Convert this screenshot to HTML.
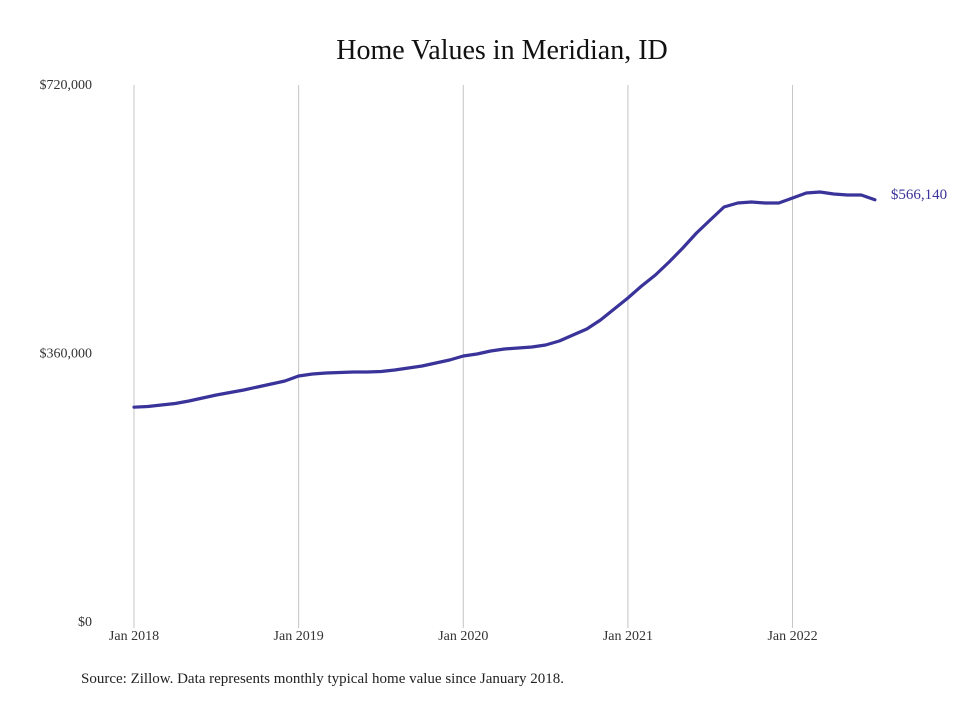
<!DOCTYPE html>
<html><head><meta charset="utf-8"><style>
body{margin:0;background:#fff;}
svg text{font-family:"Liberation Serif",serif;}
</style></head><body>
<svg width="980" height="699" viewBox="0 0 980 699" xmlns="http://www.w3.org/2000/svg">
<rect width="980" height="699" fill="#fff"/>
<text x="502" y="59" text-anchor="middle" font-size="28" fill="#111">Home Values in Meridian, ID</text>
<g id="grid"></g><g id="yaxis"></g><g id="xaxis"></g><g id="series"></g>
<text x="81" y="683" font-size="15" fill="#222">Source: Zillow. Data represents monthly typical home value since January 2018.</text>
</svg>
<script>
const values = [288000,289000,291000,293000,296300,300300,304400,307700,311100,315100,319100,323100,
329800,332500,333900,334500,335200,335200,335900,337900,340600,343200,347300,351300,
356700,359300,363400,366000,367400,368700,371400,376800,384800,392900,404900,419700,
434400,450500,465300,482700,501500,521600,539000,556400,561800,563100,561800,561800,
568500,575200,576500,573900,572500,572500,566140];
const yTicks = [0,360000,720000];
const yTickLabels = ["$0","$360,000","$720,000"];
const xTicks = [0,12,24,36,48];
const xTickLabels = ["Jan 2018","Jan 2019","Jan 2020","Jan 2021","Jan 2022"];
const lastLabel = "$566,140";
const NS="http://www.w3.org/2000/svg";
const x0=134, monthW=13.72, yBase=622, yTop=85, yMax=720000;
const xs=i=>x0+i*monthW;
const ys=v=>yBase-(v/yMax)*(yBase-yTop);
function mk(t,a,p){const e=document.createElementNS(NS,t);for(const k in a)e.setAttribute(k,a[k]);p.appendChild(e);return e;}
const grid=document.getElementById('grid'),ya=document.getElementById('yaxis'),xa=document.getElementById('xaxis'),se=document.getElementById('series');
xTicks.forEach((m,i)=>{
 const l=mk('line',{x1:xs(m),x2:xs(m),y1:yTop,y2:yBase+6,stroke:'#c4c4c4','stroke-width':1},grid);
 
 
 const t=mk('text',{x:xs(m),y:yBase+18,'text-anchor':'middle','font-size':14,fill:'#333'},xa);
 t.textContent=xTickLabels[i];
 
 
});
yTicks.forEach((v,i)=>{
 const t=mk('text',{x:92,y:ys(v)+4,'text-anchor':'end','font-size':14,fill:'#333'},ya);
 t.textContent=yTickLabels[i];
 
 
});
const d=values.map((v,i)=>(i?'L':'M')+xs(i).toFixed(1)+' '+ys(v).toFixed(1)).join(' ');
const p=mk('path',{d:d,fill:'none',stroke:'#3a3399','stroke-width':3.2,'stroke-linejoin':'round','stroke-linecap':'round'},se);


const n=values.length-1;
const lt=mk('text',{x:xs(n)+16,y:ys(values[n])-1,'font-size':15,fill:'#3a3399'},se);
lt.textContent=lastLabel;


</script>
</body></html>
